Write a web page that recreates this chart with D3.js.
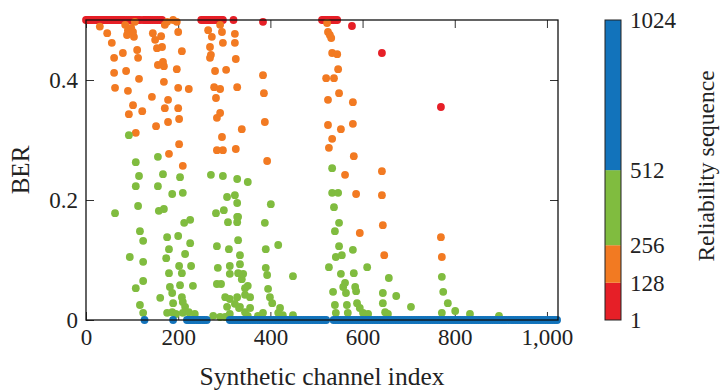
<!DOCTYPE html>
<html>
<head>
<meta charset="utf-8">
<script src="https://cdn.jsdelivr.net/npm/d3@7/dist/d3.min.js"></script>
<style>
  html, body { margin: 0; padding: 0; background: #fff; }
  svg text { font-family: "Liberation Serif", "Times New Roman", serif; fill: #222; }
</style>
</head>
<body>
<svg id="chart" width="723" height="390"></svg>
<script>
// Ranks 1-128 (least reliable channels): [index, BER]
const redPoints = [
  [0,0.5],[3,0.5],[6,0.5],[9,0.5],[12,0.5],[15,0.5],[18,0.5],[21,0.5],[24,0.5],[27,0.5],
  [30,0.5],[33,0.5],[36,0.5],[39,0.5],[42,0.5],[45,0.5],[48,0.5],[51,0.5],[55,0.5],[59,0.5],
  [63,0.5],[67,0.5],[71,0.5],[75,0.5],[79,0.5],[83,0.5],[88,0.5],[93,0.5],[98,0.5],[103,0.5],
  [108,0.5],[113,0.5],[117,0.5],[124,0.5],[128,0.5],[132,0.5],[136,0.5],[140,0.5],[145,0.5],
  [150,0.5],[155,0.5],[160,0.5],[165,0.5],
  [250,0.5],[254,0.5],[258,0.5],[262,0.5],[266,0.5],[270,0.5],[274,0.5],[278,0.5],[282,0.5],
  [286,0.5],[290,0.5],[294,0.5],[297,0.5],[320,0.5],[384,0.497],
  [512,0.5],[516,0.5],[520,0.5],[524,0.5],[528,0.5],[533,0.5],[537,0.5],[541,0.5],[545,0.5],
  [577,0.49],[642,0.445],[770,0.355]
];

// Ranks 129-256
const orangePoints = [
  [30,0.489],[46,0.478],[56,0.462],[61,0.437],[80,0.445],[61,0.412],[87,0.415],[63,0.387],
  [91,0.382],[102,0.358],[93,0.343],[122,0.348],[108,0.312],[111,0.45],[113,0.437],[115,0.402],
  [104,0.472],[85,0.492],[91,0.483],[98,0.487],[89,0.475],[106,0.497],[102,0.48],
  [143,0.372],[169,0.397],[178,0.367],[171,0.353],[200,0.387],[223,0.385],[197,0.418],
  [200,0.353],[202,0.335],[178,0.33],[152,0.323],[202,0.293],[180,0.277],[210,0.257],
  [208,0.448],[200,0.48],[167,0.43],[169,0.423],[156,0.425],[165,0.455],[154,0.453],
  [163,0.473],[150,0.467],[145,0.478],[171,0.492],[176,0.497],[189,0.5],[197,0.497],
  [265,0.483],[273,0.472],[269,0.455],[271,0.442],[269,0.437],[291,0.492],[295,0.48],
  [297,0.462],[280,0.415],[304,0.417],[278,0.388],[291,0.385],[282,0.37],[291,0.345],
  [284,0.337],[295,0.305],[284,0.283],[297,0.283],[325,0.285],[323,0.477],[323,0.462],
  [325,0.435],[328,0.388],[338,0.318],
  [384,0.408],[386,0.378],[388,0.33],[393,0.265],
  [523,0.495],[525,0.48],[529,0.475],[532,0.47],[534,0.445],[545,0.443],[547,0.418],
  [521,0.403],[538,0.403],[549,0.378],[525,0.367],[579,0.363],[525,0.325],[553,0.318],
  [579,0.327],[534,0.302],[527,0.287],[581,0.273],[562,0.242],[642,0.248],[586,0.21],
  [642,0.208],[594,0.145],[644,0.158],[647,0.108],[770,0.138],[772,0.105]
];

// Ranks 257-512
const greenPoints = [
  [93,0.308],[108,0.263],[156,0.272],[115,0.24],[167,0.243],[204,0.238],[271,0.242],
  [297,0.24],[328,0.235],[351,0.23],[108,0.223],[156,0.223],[187,0.21],[210,0.212],
  [63,0.178],[113,0.19],[158,0.182],[169,0.185],[226,0.167],[213,0.162],[117,0.148],
  [124,0.132],[176,0.138],[200,0.14],[226,0.128],[180,0.118],[215,0.11],[95,0.105],
  [174,0.103],[124,0.097],[202,0.09],[228,0.09],[180,0.078],[208,0.078],[124,0.065],
  [108,0.053],[182,0.055],[204,0.058],[232,0.057],[161,0.037],[187,0.045],[189,0.028],
  [208,0.038],[210,0.03],[215,0.022],[117,0.025],[124,0.012],[176,0.012],[187,0.013],
  [195,0.01],[210,0.012],[223,0.013],[236,0.01],[276,0.007],[291,0.005],[302,0.005],
  [312,0.01],[351,0.007],[373,0.007],
  [306,0.205],[328,0.195],[323,0.208],[282,0.178],[299,0.183],[308,0.163],[328,0.172],
  [330,0.172],[328,0.163],[330,0.133],[284,0.123],[310,0.118],[334,0.108],[286,0.087],
  [312,0.09],[334,0.093],[312,0.077],[330,0.078],[284,0.06],[293,0.06],[338,0.068],
  [302,0.038],[312,0.035],[328,0.038],[345,0.042],[306,0.022],[332,0.02],[323,0.027],
  [401,0.193],[388,0.162],[390,0.118],[417,0.125],[341,0.077],[390,0.087],[393,0.075],
  [449,0.073],[351,0.057],[345,0.053],[395,0.052],[356,0.038],[399,0.038],[334,0.022],
  [356,0.02],[345,0.013],[404,0.028],[421,0.02],[384,0.012],[417,0.012],[427,0.008],
  [449,0.008],
  [534,0.253],[534,0.212],[547,0.212],[538,0.188],[549,0.162],[540,0.148],[549,0.123],
  [542,0.105],[555,0.108],[579,0.117],[527,0.088],[553,0.077],[581,0.078],[610,0.088],
  [562,0.062],[558,0.055],[584,0.055],[586,0.048],[536,0.047],[564,0.045],[657,0.07],
  [644,0.045],[673,0.04],[540,0.025],[566,0.025],[588,0.028],[594,0.02],[644,0.028],
  [705,0.022],[542,0.012],[568,0.012],[601,0.012],[612,0.01],[649,0.013],[655,0.01],
  [772,0.072],[775,0.047],[785,0.028],[772,0.012],[801,0.015],[833,0.01],[896,0.007]
];

// Ranks 513-1024 (most reliable channels), all with BER 0
const blueIndex = [
  127,189,219,223,227,231,235,240,244,248,253,257,262,
  312,317,322,327,332,337,342,347,352,357,362,367,372,377,382,387,392,397,402,407,412,417,
  422,427,432,437,442,447,452,457,462,467,472,477,482,487,492,497,502,507,512,517,521,
  537,542,547,552,557,562,567,572,577,582,587,592,597,602,607,612,617,622,627,632,637,642,
  647,652,657,662,667,672,677,682,687,692,697,702,707,712,717,722,727,732,737,742,747,752,
  757,762,767,772,777,782,787,792,797,802,807,812,817,822,827,832,837,842,847,852,857,862,
  867,872,877,882,887,892,897,902,907,912,917,922,927,932,937,942,947,952,957,962,967,972,
  977,982,987,992,997,1002,1007,1012,1017,1022
];

const xTicks = [0, 200, 400, 600, 800, 1000];
const yTicks = [0, 0.2, 0.4];
const rankBounds = [1, 128, 256, 512, 1024];
const groupColors = ["#e61f27", "#f27a22", "#80bc3f", "#1273bb"];

(function draw() {
  const svg = d3.select("#chart");
  const pL = 86, pR = 558, pT = 20, pB = 320;

  const x = d3.scaleLinear().domain([0, 1024]).range([pL, pR]);
  const y = d3.scaleLinear().domain([0, 0.5]).range([pB, pT]);

  const r = 3.9;
  const groups = [
    { pts: redPoints, color: groupColors[0] },
    { pts: orangePoints, color: groupColors[1] },
    { pts: greenPoints, color: groupColors[2] },
    { pts: blueIndex.map(i => [i, 0]), color: groupColors[3] }
  ];

  // axes frame with inward ticks on all four sides
  const tickLen = 8;
  const fmtX = d3.format(",");
  const fmtY = d => (d === 0 ? "0" : d3.format(".1f")(d));

  const axisBottom = d3.axisBottom(x).tickValues(xTicks).tickFormat(fmtX).tickSizeInner(-tickLen).tickSizeOuter(0).tickPadding(9);
  const axisTop = d3.axisTop(x).tickValues(xTicks).tickFormat("").tickSizeInner(-tickLen).tickSizeOuter(0);
  const axisLeft = d3.axisLeft(y).tickValues(yTicks).tickFormat(fmtY).tickSizeInner(-tickLen).tickSizeOuter(0).tickPadding(8);
  const axisRight = d3.axisRight(y).tickValues(yTicks).tickFormat("").tickSizeInner(-tickLen).tickSizeOuter(0);

  function styleAxis(g) {
    g.select(".domain").remove();
    g.selectAll(".tick line").attr("stroke", "#333").attr("stroke-width", 1);
    g.selectAll(".tick text").attr("font-size", 23).attr("fill", "#222");
  }

  svg.append("g").attr("transform", `translate(0,${pB})`).call(axisBottom).call(styleAxis);
  svg.append("g").attr("transform", `translate(0,${pT})`).call(axisTop).call(styleAxis);
  svg.append("g").attr("transform", `translate(${pL},0)`).call(axisLeft).call(styleAxis);
  svg.append("g").attr("transform", `translate(${pR},0)`).call(axisRight).call(styleAxis);

  // data points
  groups.forEach(gr => {
    svg.append("g").selectAll("circle").data(gr.pts).join("circle")
      .attr("cx", d => x(d[0])).attr("cy", d => y(d[1])).attr("r", r)
      .attr("fill", gr.color);
  });

  // frame drawn over the points
  svg.append("rect").attr("x", pL).attr("y", pT)
    .attr("width", pR - pL).attr("height", pB - pT)
    .attr("fill", "none").attr("stroke", "#111").attr("stroke-width", 1.3);

  // axis titles
  svg.append("text").attr("x", (pL + pR) / 2).attr("y", 385)
    .attr("text-anchor", "middle").attr("font-size", 25.5).text("Synthetic channel index");
  svg.append("text").attr("transform", `translate(29,${(pT + pB) / 2}) rotate(-90)`)
    .attr("text-anchor", "middle").attr("font-size", 25).text("BER");

  // colour bar
  const cbX = 605, cbW = 16;
  const cy = d3.scaleLinear().domain([1, 1024]).range([320, 20]);
  const cb = svg.append("g");
  cb.selectAll("rect.seg").data(d3.range(4)).join("rect")
    .attr("class", "seg")
    .attr("x", cbX).attr("width", cbW)
    .attr("y", i => cy(rankBounds[i + 1]))
    .attr("height", i => cy(rankBounds[i]) - cy(rankBounds[i + 1]))
    .attr("fill", i => groupColors[i]);
  cb.append("rect").attr("x", cbX).attr("y", cy(1024)).attr("width", cbW)
    .attr("height", cy(1) - cy(1024)).attr("fill", "none").attr("stroke", "#222").attr("stroke-width", 1);
  const cbAxis = d3.axisRight(cy).tickValues(rankBounds).tickFormat(d3.format("d")).tickSize(0).tickPadding(9);
  cb.append("g").attr("transform", `translate(${cbX + cbW},0)`).call(cbAxis).call(g => {
    g.select(".domain").remove();
    g.selectAll(".tick text").attr("font-size", 23).attr("fill", "#222");
  });
  svg.append("text").attr("transform", `translate(714,166) rotate(-90)`)
    .attr("text-anchor", "middle").attr("font-size", 23.5).text("Reliability  sequence");
})();
</script>
</body>
</html>
